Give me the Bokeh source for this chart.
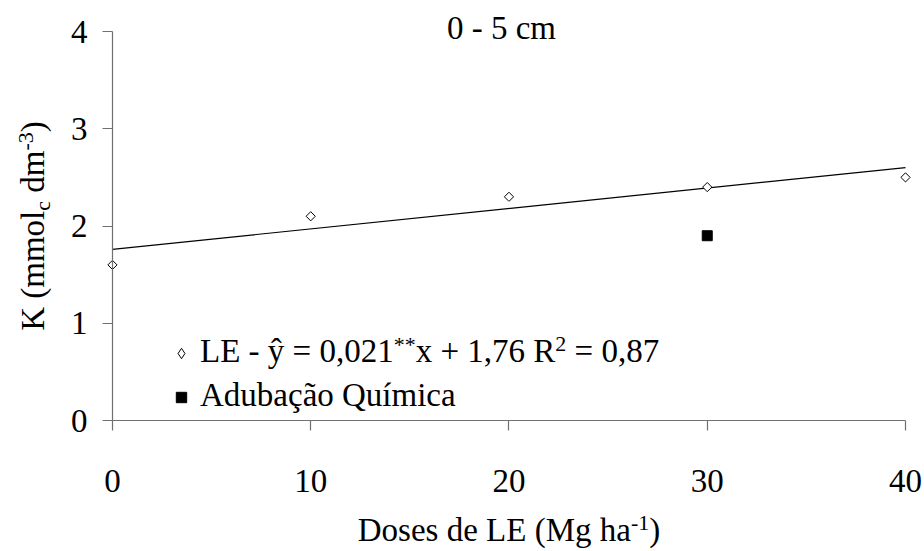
import numpy as np
from bokeh.plotting import figure
from bokeh.models import Range1d, FixedTicker, Label, Legend, LegendItem, LinearAxis
from bokeh.embed import file_html
from bokeh.resources import INLINE

# ---------------- data ----------------
doses = [0, 10, 20, 30, 40]              # Doses de LE (Mg ha-1)
k_le = [1.6, 2.1, 2.3, 2.4, 2.5]         # K, LE treatment
chem_dose = [30]                          # Adubação Química
k_chem = [1.9]
fit_x = [0, 40]                           # regression line ŷ = 0,021x + 1,76
fit_y = [1.76, 2.60]
x_ticks = [0, 10, 20, 30, 40]
y_ticks = [0, 1, 2, 3, 4]
title_text = "0 - 5 cm"

FONT = "Liberation Serif"
BIG = 33
SMALL = 22
SUP = 11
SUB = -5

# Times / Liberation Serif advance widths (per 1000 em)
W = {' ': 250, '(': 333, ')': 333, '*': 500, '+': 564, ',': 250, '-': 333, '=': 564,
     'A': 722, 'D': 722, 'E': 611, 'K': 722, 'L': 611, 'M': 889, 'Q': 722, 'R': 667,
     'a': 444, 'b': 500, 'c': 444, 'd': 500, 'e': 444, 'g': 500, 'h': 500, 'i': 278,
     'í': 278, 'l': 278, 'm': 778, 'o': 500, 's': 389, 'u': 500, 'x': 500, 'y': 500,
     'ŷ': 500, 'ç': 444, 'ã': 444}


def tw(s, size):
    return sum(W.get(ch, 500) for ch in s) * size / 1000.0


# ---------------- layout (canvas pixels) ----------------
CW, CH = 924, 551
X0_PX, X40_PX = 111.95, 905.0     # where x=0 and x=40 sit
Y0_PX, Y4_PX = 420.0, 31.0        # where y=0 and y=4 sit
sx = (X40_PX - X0_PX) / 40.0
sy = (Y0_PX - Y4_PX) / 4.0

p = figure(width=CW, height=CH, output_backend="svg", toolbar_location=None,
           x_range=Range1d(-X0_PX / sx, 40 + (CW - X40_PX) / sx),
           y_range=Range1d(-(CH - Y0_PX) / sy, 4 + Y4_PX / sy),
           min_border=0, min_border_left=0, min_border_right=0,
           min_border_top=0, min_border_bottom=0,
           x_axis_type=None, y_axis_type=None)
p.outline_line_color = None
p.background_fill_color = "white"
p.border_fill_color = "white"


def style_axis(ax, standoff):
    ax.axis_line_color = "#707070"
    ax.axis_line_width = 1.2
    ax.major_tick_line_color = "#707070"
    ax.major_tick_line_width = 1.2
    ax.major_tick_out = 10
    ax.major_tick_in = 0
    ax.minor_tick_out = 0
    ax.minor_tick_in = 0
    ax.major_label_text_font = FONT
    ax.major_label_text_font_size = f"{BIG}px"
    ax.major_label_text_color = "black"
    ax.major_label_standoff = standoff


xaxis = LinearAxis(ticker=FixedTicker(ticks=x_ticks), bounds=(0, 40), fixed_location=0)
style_axis(xaxis, 39)
p.add_layout(xaxis, "below")

yaxis = LinearAxis(ticker=FixedTicker(ticks=y_ticks), bounds=(0, 4), fixed_location=0)
style_axis(yaxis, 15)
p.add_layout(yaxis, "left")

# glyphs
p.line(fit_x, fit_y, line_color="black", line_width=1.2)
r_le = p.scatter(doses, k_le, marker="square", angle=np.pi / 4, size=6.5,
                 fill_color="white", line_color="black", line_width=1)
r_chem = p.scatter(chem_dose, k_chem, marker="square", size=10,
                   fill_color="black", line_color="black")
# legend key for the LE series: diamond shape, the renderer itself is hidden
r_le_key = p.scatter(doses, k_le, marker="diamond", size=10,
                     fill_color="white", line_color="black", line_width=1, visible=False)

# legend keys (texts are drawn separately so that super/subscripts are possible)
GLW, ROW = 26, 44
legend = Legend(items=[LegendItem(label=" ", renderers=[r_le_key]),
                       LegendItem(label=" ", renderers=[r_chem])],
                location=(181 - GLW / 2, CH - 419), orientation="vertical",
                glyph_width=GLW, glyph_height=ROW, label_height=ROW, label_width=1,
                label_text_font_size="1px", label_standoff=0, spacing=0,
                padding=0, margin=0, border_line_color=None,
                background_fill_alpha=0, inactive_fill_alpha=0,
                click_policy="none")
p.add_layout(legend)

# -------- texts (canvas px) --------
def add_text(text, px, py, size, angle=0.0):
    corr = 0.37 * size   # renderer draws the alphabetic baseline a bit low
    if angle:
        px = px - corr
    else:
        py = py - corr
    p.add_layout(Label(x=0, y=0, x_units="data", y_units="data",
                       x_offset=px - X0_PX, y_offset=Y0_PX - py, text=text,
                       text_font=FONT, text_font_size=f"{size}px", text_color="black",
                       text_align="left", text_baseline="alphabetic", angle=angle))


def add_runs(runs, px, py, vertical=False):
    cur = px if not vertical else py
    for text, size, shift in runs:
        lead = len(text) - len(text.lstrip(" "))
        adv = tw(" " * lead, size)
        text = text.lstrip(" ")
        if vertical:
            cur -= adv
            add_text(text, px - shift, cur, size, angle=np.pi / 2)
            cur -= tw(text, size)
        else:
            cur += adv
            add_text(text, cur, py - shift, size)
            cur += tw(text, size)


def runs_width(runs):
    return sum(tw(t, s) for t, s, _ in runs)


# title
add_text(title_text, 501 - tw(title_text, BIG) / 2, 40.0, BIG)

# legend texts
leg1 = [("LE - ŷ = 0,021", BIG, 0), ("**", SMALL, SUP), ("x + 1,76 R", BIG, 0),
        ("2", SMALL, SUP), (" = 0,87", BIG, 0)]
add_runs(leg1, 199.5, 363)
leg2 = [("Adubação Química", BIG, 0)]
add_runs(leg2, 199.5, 407)

# x axis label
xlab = [("Doses de LE (Mg ha", BIG, 0), ("-1", SMALL, SUP), (")", BIG, 0)]
add_runs(xlab, 508.5 - runs_width(xlab) / 2, 542)

# y axis label (rotated)
ylab = [("K (mmol", BIG, 0), ("c", SMALL, SUB), (" dm", BIG, 0), ("-3", SMALL, SUP), (")", BIG, 0)]
add_runs(ylab, 45, 225.5 + runs_width(ylab) / 2, vertical=True)

html = file_html(p, INLINE)
html = html.replace("<head>", "<head><style>html,body{overflow:hidden;}</style>", 1)
open("out.html", "w").write(html)
